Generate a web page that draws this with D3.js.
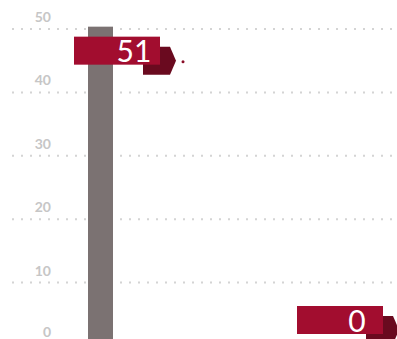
<!DOCTYPE html>
<html>
<head>
<meta charset="utf-8">
<script src="https://cdn.jsdelivr.net/npm/d3@7"></script>
<style>
  body { margin: 0; background: #fff; }
  svg { display: block; }
</style>
</head>
<body>
<svg id="chart" width="397" height="339"></svg>
<script>
const categories = ['A', 'B'];
const values = [51, 0];
const tickValues = [0, 10, 20, 30, 40, 50];

const width = 397, height = 339;
const svg = d3.select('#chart');

// y scale: 0 sits just below the visible frame
const y = d3.scaleLinear().domain([0, 50]).range([346, 29]);
const x = d3.scalePoint().domain(categories).range([100.5, 323.5]);
const barWidth = 25;

// dotted gridlines
svg.append('g')
  .selectAll('line')
  .data(tickValues)
  .join('line')
  .attr('x1', 12)
  .attr('x2', width)
  .attr('y1', (d) => y(d))
  .attr('y2', (d) => y(d))
  .attr('stroke', '#d4d4d4')
  .attr('stroke-width', 2)
  .attr('stroke-dasharray', '2,7');

// tick labels sit above each line
svg.append('g')
  .selectAll('text')
  .data(tickValues)
  .join('text')
  .attr('x', 51)
  .attr('y', (d) => Math.min(y(d) - 7, 337))
  .attr('text-anchor', 'end')
  .attr('font-family', 'Lato, sans-serif')
  .attr('font-weight', 'bold')
  .attr('font-size', '14px')
  .attr('fill', '#c6c6c6')
  .text((d) => d);

// bars
svg.append('g')
  .selectAll('rect')
  .data(values)
  .join('rect')
  .attr('x', (d, i) => x(categories[i]) - barWidth / 2)
  .attr('y', (d) => y(d) + 4)
  .attr('width', barWidth)
  .attr('height', (d) => Math.max(0, y(0) - y(d) - 4))
  .attr('fill', '#7b7272');

// value badges
const badgeW = 86, badgeH = 28;
const badgeY = (d) => Math.min(y(d) + 28, y(0) - 26) - badgeH / 2;

const badge = svg.append('g')
  .selectAll('g')
  .data(values)
  .join('g')
  .attr('transform', (d, i) =>
    `translate(${x(categories[i]) - 26.5},${badgeY(d)})`);

badge.append('path')
  .attr('d', 'M69,10 L96,10 L102,24 L96,38 L69,38 Z')
  .attr('fill', '#6a0a1f');

badge.append('rect')
  .attr('width', badgeW)
  .attr('height', badgeH)
  .attr('fill', '#a20d2f');

badge.append('text')
  .attr('x', 60)
  .attr('y', badgeH / 2 + 1)
  .attr('dy', '0.36em')
  .attr('text-anchor', 'middle')
  .attr('font-family', 'Lato, sans-serif')
  .attr('font-size', '30px')
  .attr('fill', '#fff')
  .text((d) => d);

badge.filter((d, i) => i === 0)
  .append('circle')
  .attr('cx', 109)
  .attr('cy', 25)
  .attr('r', 1.5)
  .attr('fill', '#8a0d27');
</script>
</body>
</html>
